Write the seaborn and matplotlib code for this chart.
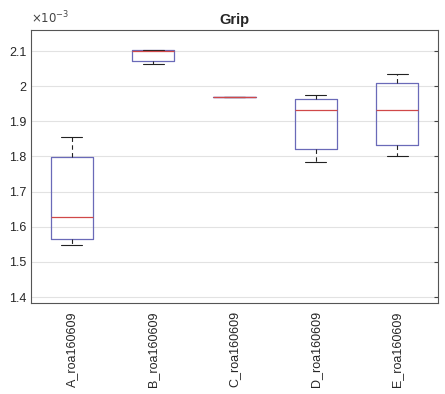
import numpy as np
import pandas as pd
import matplotlib
matplotlib.use("Agg")
import matplotlib.pyplot as plt
import seaborn as sns

# grip values per condition, in units of 1e-3 (min, q1, median, q3, max)
cond_a = [1.547, 1.566, 1.628, 1.799, 1.855]
cond_b = [2.064, 2.071, 2.100, 2.102, 2.103]
cond_c = [1.968, 1.968, 1.968, 1.968, 1.968]
cond_d = [1.783, 1.820, 1.932, 1.964, 1.975]
cond_e = [1.802, 1.834, 1.933, 2.008, 2.034]
labels = ["A_roa160609", "B_roa160609", "C_roa160609", "D_roa160609", "E_roa160609"]

groups = [cond_a, cond_b, cond_c, cond_d, cond_e]
df = pd.DataFrame({
    "cond": np.repeat(labels, [len(g) for g in groups]),
    "grip": np.concatenate(groups),
})

sns.set_style("white")
plt.rcParams["font.family"] = ["Liberation Sans", "DejaVu Sans"]

fig = plt.figure(figsize=(4.45, 3.94), dpi=100)
ax = fig.add_axes([0.070, 0.231, 0.914, 0.693])

sns.boxplot(data=df, x="cond", y="grip", order=labels, ax=ax,
            width=0.52, whis=(0, 100), showfliers=False, fill=False,
            color="#6a6ab8", linewidth=0.9,
            medianprops=dict(color="#d04848", linewidth=0.9, zorder=5),
            whiskerprops=dict(color="#222222", linestyle=(0, (4, 3)), linewidth=0.8),
            capprops=dict(color="#222222", linewidth=0.8))

ax.set_ylim(1.383, 2.16)
ax.set_xlim(-0.5, 4.5)
ax.set_yticks([1.4, 1.5, 1.6, 1.7, 1.8, 1.9, 2.0, 2.1])
ax.set_yticklabels(["1.4", "1.5", "1.6", "1.7", "1.8", "1.9", "2", "2.1"])
ax.yaxis.grid(True, color="#e2e2e2", linewidth=0.8)
ax.set_axisbelow(True)
ax.tick_params(axis="y", direction="in", length=3, right=True, labelsize=9, color="#444444")
ax.tick_params(axis="x", length=0, labelsize=9, pad=6)
plt.setp(ax.get_xticklabels(), rotation=90)
for s in ax.spines.values():
    s.set_color("#555555")
    s.set_linewidth(0.8)
ax.set_xlabel("")
ax.set_ylabel("")
ax.set_title("Grip", fontsize=10.5, fontweight="bold", pad=4)
ax.text(0.0, 1.012, r"$\times10^{-3}$", transform=ax.transAxes, fontsize=8.5,
        ha="left", va="bottom", color="#444444")

fig.savefig("out.png", dpi=100)
